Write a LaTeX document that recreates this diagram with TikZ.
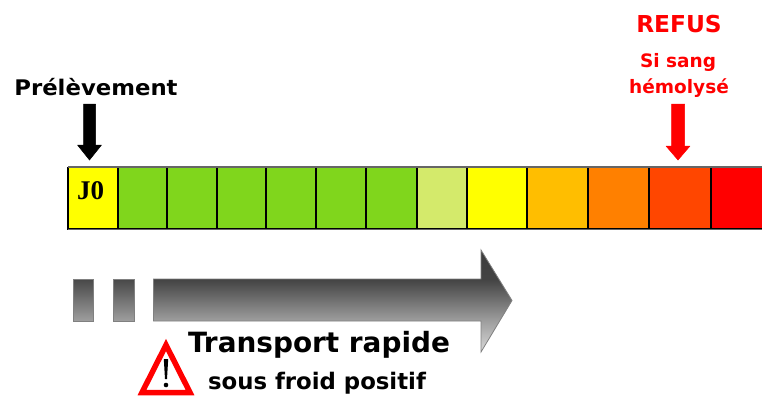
\documentclass[tikz,border=0pt]{standalone}
\usepackage{fontspec}
\setmainfont{DejaVu Sans}
\newfontfamily\serifbold{Liberation Serif}
\definecolor{cgreen}{RGB}{128,214,28}
\definecolor{cpale}{RGB}{212,234,107}
\definecolor{cyel}{RGB}{255,255,0}
\definecolor{camber}{RGB}{255,190,0}
\definecolor{corange}{RGB}{255,128,0}
\definecolor{cdeep}{RGB}{255,70,0}
\definecolor{cred}{RGB}{255,0,0}
\pgfdeclareverticalshading{arrowgrey}{100bp}{
  color(0bp)=(black!15); color(25bp)=(black!15); color(40.2bp)=(black!38);
  color(60.8bp)=(black!74); color(75bp)=(black!76); color(100bp)=(black!76)}
\tikzset{
  cell/.style={fill=#1,draw=black,line width=1.1pt},
  barframe/.style={draw=black!60,line width=1.6pt},
  lbl/.style={inner sep=0pt},
  greybar/.style={top color=black!72,bottom color=black!38,draw=black!50,line width=0.8pt},
  greyarrow/.style={shading=arrowgrey,draw=black!50,line width=0.8pt,line join=miter},
  blockarrow/.style={fill=#1,draw=#1,line width=0.5pt,line join=round}
}
\begin{document}
\begin{tikzpicture}[x=1pt,y=-1pt]
\useasboundingbox (0,0) rectangle (762,397);
\fill[white] (0,0) rectangle (762,397);
% timeline cells
\foreach \a/\b/\c in {68/118/cyel,118/167/cgreen,167/217/cgreen,217/266/cgreen,266/316/cgreen,316/366/cgreen,366/417/cgreen,417/467/cpale,467/527/cyel,527/588/camber,588/649/corange,649/711/cdeep,711/763/cred}
  \draw[cell=\c] (\a,167.5) rectangle (\b,229);
\draw[barframe] (68,167) -- (762,167);
\draw[barframe] (68,229.5) -- (762,229.5);
\node[lbl,font=\serifbold\bfseries\fontsize{27}{27}\selectfont] (j0) at (90.5,190.5) {J0};
% labels
\node[lbl,font=\bfseries\fontsize{21.5}{24}\selectfont] (prel) at (96,87.5) {\scalebox{1.06}[1]{Prélèvement}};
\node[lbl,text=cred,font=\bfseries\fontsize{23.3}{25}\selectfont] (refus) at (679,24) {REFUS};
\node[lbl,text=cred,font=\bfseries\fontsize{18.5}{20}\selectfont] (si) at (678,62) {Si sang};
\node[lbl,text=cred,font=\bfseries\fontsize{18.5}{20}\selectfont] (hemo) at (679,88) {hémolysé};
% block arrows
\draw[blockarrow=black] (83.5,104) -- (95.5,104) -- (95.5,145) -- (101.5,145) -- (89.5,160) -- (77.5,145) -- (83.5,145) -- cycle;
\draw[blockarrow=cred] (671.5,104) -- (684.5,104) -- (684.5,146) -- (690,146) -- (678,160) -- (666,146) -- (671.5,146) -- cycle;
% transport bars
\path[greybar] (73,279) rectangle (93.5,321);
\path[greybar] (113,279) rectangle (134,321);
\path[greyarrow] (153.5,279) -- (481,279) -- (481,250) -- (512,300.5) -- (481,352) -- (481,321) -- (153.5,321) -- cycle;
\node[lbl,font=\bfseries\fontsize{27.9}{30}\selectfont] (trans) at (319,344.5) {Transport rapide};
\node[lbl,font=\bfseries\fontsize{22.8}{25}\selectfont] (froid) at (317,383) {sous froid positif};
% warning sign
\draw[cred,line width=5.5pt,line join=miter] (166,345) -- (190,392.5) -- (142,392.5) -- cycle;
\fill[black] (163.8,359) -- (168.2,359) -- (167,379) -- (165,379) -- cycle;
\fill[black] (166,385) circle (2.3);
\end{tikzpicture}
\end{document}
